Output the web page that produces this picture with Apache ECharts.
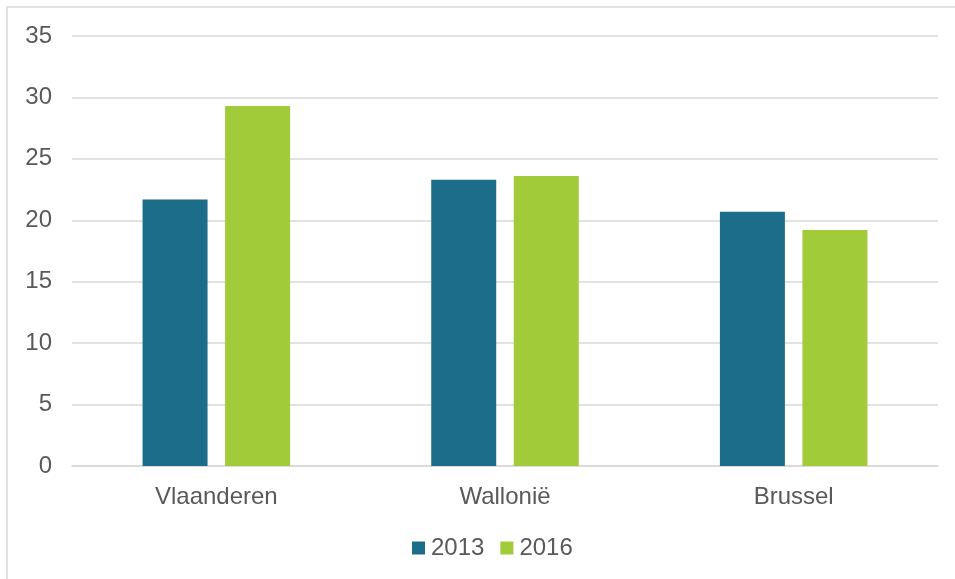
<!DOCTYPE html>
<html>
<head>
<meta charset="utf-8">
<script src="https://cdn.jsdelivr.net/npm/echarts@6/dist/echarts.min.js"></script>
<style>
  html, body { margin: 0; padding: 0; background: #ffffff; }
  #chart { width: 955px; height: 579px; }
</style>
</head>
<body>
<div id="chart"></div>
<script>
// Regions and yearly values
const categories = ['Vlaanderen', 'Wallonië', 'Brussel'];
const seriesNames = ['2013', '2016'];
const values2013 = [21.7, 23.3, 20.7];
const values2016 = [29.3, 23.6, 19.2];

const textColor = '#595959';
const fontFamily = 'Liberation Sans, Arial, sans-serif';

const chart = echarts.init(document.getElementById('chart'), null, { renderer: 'canvas' });

chart.setOption({
  animation: false,
  backgroundColor: '#ffffff',
  graphic: [
    {
      type: 'polyline',
      shape: { points: [[7, 600], [7, 7], [960, 7]] },
      style: { stroke: '#d9d9d9', lineWidth: 1.5, fill: null },
      silent: true
    }
  ],
  grid: { left: 72, right: 17, top: 36, bottom: 113, containLabel: false },
  legend: {
    data: seriesNames,
    bottom: 14,
    left: 407,
    itemWidth: 13,
    itemHeight: 13,
    itemGap: 16,
    icon: 'rect',
    textStyle: { color: textColor, fontSize: 24, fontFamily: fontFamily, padding: [0, 0, 0, 1] }
  },
  xAxis: {
    type: 'category',
    data: categories,
    axisLine: { show: true, lineStyle: { color: '#d9d9d9', width: 1.5 } },
    axisTick: { show: false },
    axisLabel: { color: textColor, fontSize: 24, fontFamily: fontFamily, margin: 19 }
  },
  yAxis: {
    type: 'value',
    min: 0,
    max: 35,
    interval: 5,
    axisLine: { show: false },
    axisTick: { show: false },
    splitLine: { lineStyle: { color: '#d9d9d9', width: 1.5 } },
    axisLabel: { color: textColor, fontSize: 24, fontFamily: fontFamily, margin: 20 }
  },
  series: [
    {
      name: seriesNames[0],
      type: 'bar',
      data: values2013,
      barWidth: 65,
      barGap: '27%',
      itemStyle: { color: '#1b6d8a' }
    },
    {
      name: seriesNames[1],
      type: 'bar',
      data: values2016,
      barWidth: 65,
      barGap: '27%',
      itemStyle: { color: '#a2cb3a' }
    }
  ]
});
</script>
</body>
</html>
